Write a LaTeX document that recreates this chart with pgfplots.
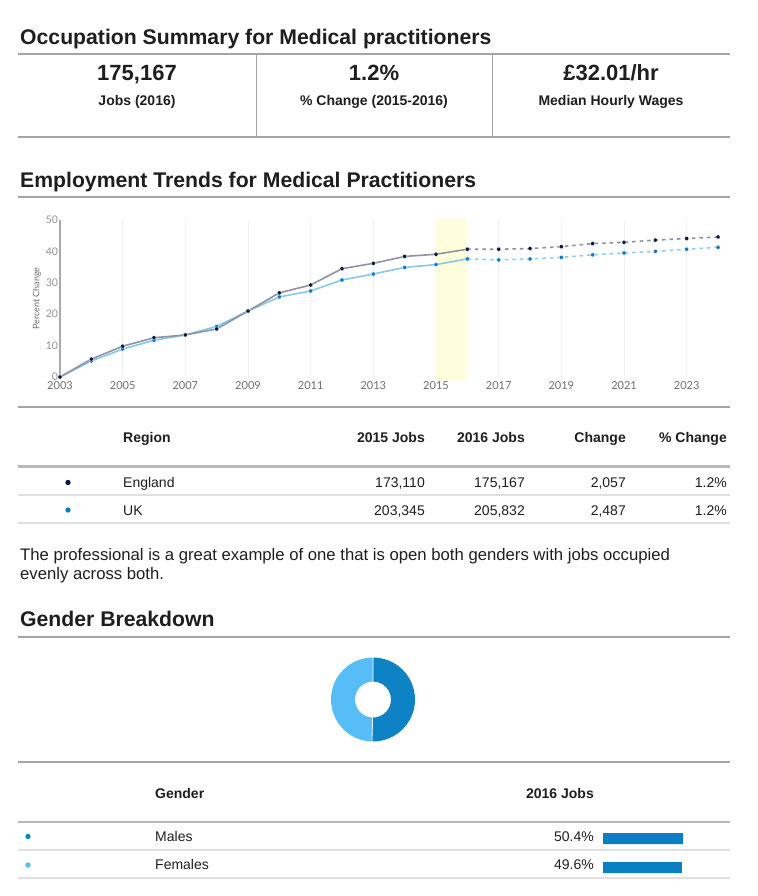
\documentclass[border=0pt]{standalone}
\usepackage{pgfplots}
\pgfplotsset{compat=1.18}
\usepackage{pgfplotstable}
\usepackage{fontspec}
\setmainfont{Liberation Sans}
\newfontfamily\latofont{Lato}
\newcommand\fs[1]{\fontsize{#1bp}{#1bp}\selectfont}

\definecolor{txt}{HTML}{1E1E1E}
\definecolor{rule}{HTML}{A4A4A4}
\definecolor{rulethick}{HTML}{B8B8B8}
\definecolor{rulethin}{HTML}{E0E0E0}
\definecolor{engline}{HTML}{8E93A5}
\definecolor{engmark}{HTML}{0B1640}
\definecolor{engdash}{HTML}{8A8FA3}
\definecolor{ukline}{HTML}{86C8E6}
\definecolor{ukmark}{HTML}{0A7BC8}
\definecolor{ukdash}{HTML}{8ECDEE}
\definecolor{band}{HTML}{FEFDDC}
\definecolor{gridc}{HTML}{F0F0F0}
\definecolor{ticktxt}{HTML}{6E6E6E}
\definecolor{yaxisc}{HTML}{AAAAAA}
\definecolor{male}{HTML}{0D83C5}
\definecolor{female}{HTML}{57BDF6}
\definecolor{barc}{HTML}{0A80C2}

% percent change since 2003, actual
\pgfplotstableread{
year eng uk
2003 0 0
2004 5.7 5.1
2005 9.8 8.9
2006 12.5 11.7
2007 13.4 13.4
2008 15.3 16.1
2009 21.0 21.0
2010 26.8 25.5
2011 29.3 27.4
2012 34.5 30.9
2013 36.2 32.8
2014 38.4 34.9
2015 39.1 35.8
2016 40.7 37.6
}\histdata

% projected
\pgfplotstableread{
year eng uk
2016 40.7 37.6
2017 40.7 37.3
2018 40.9 37.6
2019 41.5 38.1
2020 42.5 38.9
2021 42.9 39.5
2022 43.6 40.0
2023 44.1 40.7
2024 44.6 41.3
}\projdata

\pgfplotstableread{
pos share
0 49.6
1 50.4
}\genderdata

\pgfmathsetmacro\maleshare{50.4}

\begin{document}
\begin{tikzpicture}
\begin{scope}[x=1bp,y=-1bp]
\path (0,0) rectangle (758,896);

% --- summary ---
\node[anchor=base west, inner sep=0, font=\bfseries\fs{21.2}, text=txt] at (20,44) {Occupation Summary for Medical practitioners};
\draw[rule, line width=1.5bp] (18,54) -- (730,54);
\draw[rule, line width=1.5bp] (18,137) -- (730,137);
\draw[rule, line width=1bp] (256,54) -- (256,137) (492,54) -- (492,137);
\begin{scope}[every node/.style={anchor=base, inner sep=0, text=txt}]
\node[font=\bfseries\fs{22}] at (137,80) {175,167};
\node[font=\bfseries\fs{22}] at (374,80) {1.2\%};
\node[font=\bfseries\fs{22}] at (611,80) {£32.01/hr};
\node[font=\bfseries\fs{14}] at (137,105.5) {Jobs (2016)};
\node[font=\bfseries\fs{14}] at (374,105.5) {\% Change (2015-2016)};
\node[font=\bfseries\fs{14}] at (611,105.5) {Median Hourly Wages};
\end{scope}

% --- trends ---
\node[anchor=base west, inner sep=0, font=\bfseries\fs{21.2}, text=txt] at (20,187) {Employment Trends for Medical Practitioners};
\draw[rule, line width=1.5bp] (18,197) -- (730,197);
\draw[rule, line width=1.5bp] (18,407) -- (730,407);

% region table
\begin{scope}[every node/.style={inner sep=0, text=txt}]
\node[anchor=base west, font=\bfseries\fs{14}] at (123,442.5) {Region};
\node[anchor=base east, font=\bfseries\fs{14}] at (425,442.5) {2015 Jobs};
\node[anchor=base east, font=\bfseries\fs{14}] at (525,442.5) {2016 Jobs};
\node[anchor=base east, font=\bfseries\fs{14}] at (626,442.5) {Change};
\node[anchor=base east, font=\bfseries\fs{14}] at (727,442.5) {\% Change};
\draw[rulethick, line width=2.5bp] (18,466.5) -- (730,466.5);
\fill[engmark] (68,482.5) circle (2.7);
\node[anchor=base west, font=\fs{14}] at (123,487.5) {England};
\node[anchor=base east, font=\fs{14}] at (425,487.5) {173,110};
\node[anchor=base east, font=\fs{14}] at (525,487.5) {175,167};
\node[anchor=base east, font=\fs{14}] at (626,487.5) {2,057};
\node[anchor=base east, font=\fs{14}] at (727,487.5) {1.2\%};
\draw[rulethin, line width=1.5bp] (18,495) -- (730,495);
\fill[ukmark] (68,510) circle (2.7);
\node[anchor=base west, font=\fs{14}] at (123,515) {UK};
\node[anchor=base east, font=\fs{14}] at (425,515) {203,345};
\node[anchor=base east, font=\fs{14}] at (525,515) {205,832};
\node[anchor=base east, font=\fs{14}] at (626,515) {2,487};
\node[anchor=base east, font=\fs{14}] at (727,515) {1.2\%};
\draw[rulethin, line width=1.5bp] (18,523) -- (730,523);

\node[anchor=base west, font=\fs{16.7}] at (20,560) {The professional is a great example of one that is open both genders with jobs occupied};
\node[anchor=base west, font=\fs{16.7}] at (20,579) {evenly across both.};

% --- gender ---
\node[anchor=base west, font=\bfseries\fs{21.2}] at (20,626) {Gender Breakdown};
\draw[rule, line width=1.5bp] (18,637) -- (730,637);
\draw[rule, line width=1.5bp] (18,762) -- (730,762);
\node[anchor=base west, font=\bfseries\fs{14}] at (155,798) {Gender};
\node[anchor=base east, font=\bfseries\fs{14}] at (594,798) {2016 Jobs};
\draw[rulethick, line width=2.5bp] (18,822) -- (730,822);
\fill[male] (28,836.5) circle (2.7);
\node[anchor=base west, font=\fs{14}] at (155,841) {Males};
\node[anchor=base east, font=\fs{14}] at (594,841) {50.4\%};
\draw[rulethin, line width=1.5bp] (18,850) -- (730,850);
\fill[female] (28,865) circle (2.7);
\node[anchor=base west, font=\fs{14}] at (155,869) {Females};
\node[anchor=base east, font=\fs{14}] at (594,869) {49.6\%};
\draw[rulethin, line width=1.5bp] (18,878) -- (730,878);
\end{scope}
\end{scope}

% donut
\begin{scope}[shift={(373bp,-699.5bp)}, x=1bp, y=1bp]
\pgfmathsetmacro\splitang{90-3.6*\maleshare}
\fill[male] (90:42) arc[start angle=90, end angle=\splitang, radius=42]
  -- (\splitang:18) arc[start angle=\splitang, end angle=90, radius=18] -- cycle;
\fill[female] (\splitang:42) arc[start angle=\splitang, end angle=-270, radius=42]
  -- (-270:18) arc[start angle=-270, end angle=\splitang, radius=18] -- cycle;
\draw[white, line width=0.8bp] (90:17) -- (90:43) (\splitang:17) -- (\splitang:43);
\end{scope}

% line chart
\begin{axis}[
  at={(60bp,-377bp)}, anchor=south west,
  scale only axis, width=658bp, height=157bp,
  xmin=2003, xmax=2024, ymin=0, ymax=50,
  clip=false,
  axis lines*=left,
  x axis line style={draw=none},
  y axis line style={draw=yaxisc, line width=2bp},
  xtick={2003,2005,...,2023}, ytick={0,10,...,50},
  major tick length=0pt,
  xmajorgrids, grid style={draw=gridc, line width=0.8bp},
  /pgf/number format/1000 sep={},
  /pgf/number format/assume math mode=true,
  x tick label style={font=\latofont\fs{11}, text=ticktxt, yshift=-1.5bp},
  y tick label style={font=\latofont\fs{10.5}, text=ticktxt!75, xshift=1.5bp},
  ylabel={Percent Change},
  ylabel style={font=\latofont\fs{9}, text=ticktxt, yshift=-2bp},
  every axis plot/.append style={line width=1.6bp, mark=*, mark size=2.1bp},
]
\addplot[fill=band, draw=none, mark=none, forget plot] coordinates {(2015,-1) (2016,-1) (2016,50.3) (2015,50.3)} -- cycle;
\addplot[ukline, mark options={fill=ukmark, draw=white, line width=0.3bp}] table[x=year, y=uk] {\histdata};
\addplot[engline, mark options={fill=engmark, draw=white, line width=0.3bp}] table[x=year, y=eng] {\histdata};
\addplot[ukdash, dash pattern=on 3.5bp off 4bp, mark options={solid, fill=ukmark, draw=white, line width=0.3bp}] table[x=year, y=uk] {\projdata};
\addplot[engdash, dash pattern=on 3.5bp off 4bp, mark options={solid, fill=engmark, draw=white, line width=0.3bp}] table[x=year, y=eng] {\projdata};
\end{axis}

% gender share bars
\begin{axis}[
  at={(603bp,-882bp)}, anchor=south west,
  scale only axis, width=80bp, height=58bp,
  xmin=0, xmax=50.4, ymin=-0.5, ymax=1.5,
  hide axis, clip=false,
  xbar, bar width=11bp,
]
\addplot[fill=barc, draw=none] table[x=share, y=pos] {\genderdata};
\end{axis}
\end{tikzpicture}
\end{document}
